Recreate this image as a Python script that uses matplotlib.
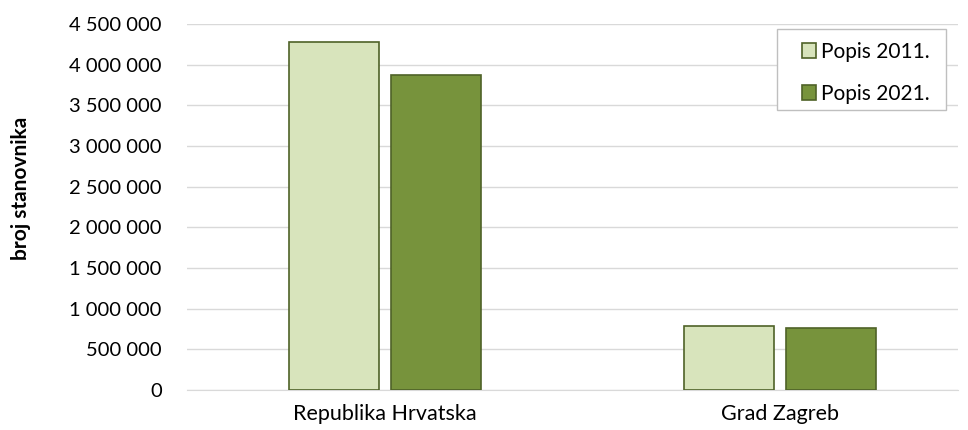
import matplotlib.pyplot as plt
import matplotlib.ticker as ticker
import matplotlib.patches as patches
import numpy as np

plt.rcParams['font.family'] = ['Lato', 'DejaVu Sans']

categories = ['Republika Hrvatska', 'Grad Zagreb']
popis_2011 = [4284889, 790017]
popis_2021 = [3871833, 767131]
series_names = ['Popis 2011.', 'Popis 2021.']

fig = plt.figure(figsize=(9.68, 4.30), dpi=100)
ax = fig.add_axes([0.193, 0.093, 0.797, 0.851])

x = np.arange(len(categories))
w = 0.228
off = 0.129
ax.bar(x - off, popis_2011, w, color='#D8E4BC', edgecolor='#4F6228', linewidth=1.2,
       label=series_names[0], zorder=3)
ax.bar(x + off, popis_2021, w, color='#77933C', edgecolor='#4F6228', linewidth=1.2,
       label=series_names[1], zorder=3)

ax.set_xlim(-0.5, 1.45)
ax.set_ylim(0, 4500000)
ax.set_yticks(np.arange(0, 4500001, 500000))
ax.yaxis.set_major_formatter(ticker.FuncFormatter(lambda v, p: f'{int(v):,}'.replace(',', ' ')))
ax.set_xticks(x)
ax.set_xticklabels(categories)
ax.tick_params(axis='both', length=0, colors='#000000')
ax.tick_params(axis='x', pad=10, labelsize=15.5)
ax.tick_params(axis='y', pad=18, labelsize=14.5)
ax.grid(axis='y', color='#D9D9D9', linewidth=1, zorder=0)
for s in ['top', 'right', 'left']:
    ax.spines[s].set_visible(False)
ax.spines['bottom'].set_color('#D9D9D9')

ax.set_ylabel('broj stanovnika', fontsize=15, fontweight='bold')
ax.yaxis.set_label_coords(-0.202, 0.552)

# legend box drawn separately so the padding can match
box = patches.Rectangle((0.765, 0.765), 0.219, 0.221, transform=ax.transAxes,
                        facecolor='white', edgecolor='#BFBFBF', linewidth=1, zorder=4)
ax.add_patch(box)
leg = ax.legend(loc='upper left', bbox_to_anchor=(0.797, 0.952), fontsize=15,
                frameon=False, borderaxespad=0, borderpad=0,
                handlelength=0.7, handleheight=0.7, handletextpad=0.25,
                labelspacing=1.05)
leg.set_zorder(5)

plt.savefig('out.png', dpi=100)
